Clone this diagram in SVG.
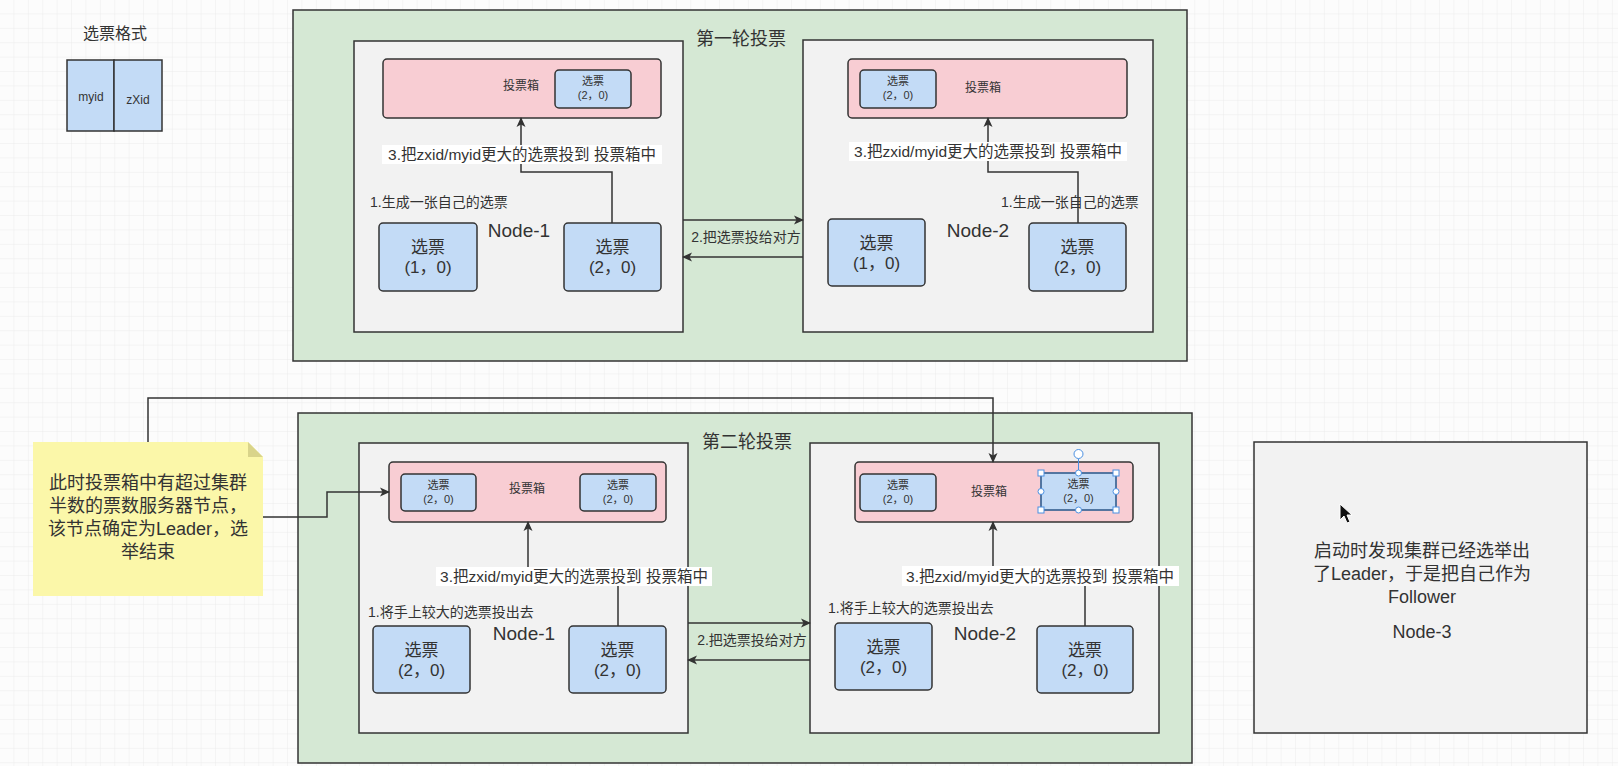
<svg xmlns="http://www.w3.org/2000/svg" width="1618" height="766" viewBox="0 0 1618 766">
<defs>
<pattern id="grid" width="14.4" height="14.4" patternUnits="userSpaceOnUse">
<path d="M14.4 0V14.4M0 14.4H14.4" fill="none" stroke="#ebebeb" stroke-width="1"/>
</pattern>
<marker id="arr" viewBox="0 0 10 10" refX="9" refY="5" markerWidth="10" markerHeight="10" markerUnits="userSpaceOnUse" orient="auto">
<path d="M0 0.5L10 5L0 9.5L2.5 5Z" fill="#333"/>
</marker>
<style>
text{font-family:"Liberation Sans","Noto Sans CJK SC",sans-serif;fill:#333;text-anchor:middle}
.grp{fill:#d5e8d4;stroke:#333;stroke-width:1.5}
.node{fill:#f2f2f2;stroke:#333;stroke-width:1.5}
.box{fill:#f8cdd3;stroke:#333;stroke-width:1.5}
.tk{fill:#c3dbf6;stroke:#333;stroke-width:1.5}
.ln{fill:none;stroke:#333;stroke-width:1.5}
.lbg{fill:#fff}
.t18{font-size:18px}
.t19{font-size:19px}
.t17{font-size:17px}
.t15{font-size:15.5px}
.t14{font-size:14px;text-anchor:start}
.t14m{font-size:14px}
.t12{font-size:12px}
.t11{font-size:11px}
.h{fill:#fff;stroke:#4a90e2;stroke-width:1}
</style>
</defs>
<rect width="1618" height="766" fill="#fcfcfc"/>
<rect width="1618" height="766" fill="url(#grid)"/>

<g id="format">
<text x="115" y="39" style="font-size:16px">选票格式</text>
<rect x="67" y="60" width="47" height="71" class="tk" rx="0"/>
<rect x="114" y="60" width="48" height="71" class="tk" rx="0"/>
<text x="91" y="101" class="t12">myid</text>
<text x="138" y="104" class="t12">zXid</text>
</g>

<g id="round1">
<rect x="293" y="10" width="894" height="351" class="grp"/>
<text x="741" y="45" class="t18">第一轮投票</text>
</g>

<g id="r1-node1">
<rect x="354" y="41" width="329" height="291" class="node"/>
<rect x="383" y="59" width="278" height="59" rx="4" class="box"/>
<text x="521" y="90" class="t12">投票箱</text>
<rect x="555" y="70" width="76" height="38" rx="4" class="tk"/>
<text x="593" y="85" class="t11">选票</text>
<text x="593" y="99" class="t11">(2，0)</text>
<text x="370" y="207" class="t14">1.生成一张自己的选票</text>
<text x="519" y="237" class="t19">Node-1</text>
<rect x="379" y="223" width="98" height="68" rx="4" class="tk"/>
<text x="428" y="253" class="t17">选票</text>
<text x="428" y="273" class="t17">(1，0)</text>
<rect x="564" y="223" width="97" height="68" rx="4" class="tk"/>
<text x="612.5" y="253" class="t17">选票</text>
<text x="612.5" y="273" class="t17">(2，0)</text>
</g>

<g id="r1-node2">
<rect x="803" y="40" width="350" height="292" class="node"/>
<rect x="848" y="59" width="279" height="59" rx="4" class="box"/>
<text x="983" y="92" class="t12">投票箱</text>
<rect x="860" y="70" width="76" height="38" rx="4" class="tk"/>
<text x="898" y="85" class="t11">选票</text>
<text x="898" y="99" class="t11">(2，0)</text>
<text x="1001" y="207" class="t14">1.生成一张自己的选票</text>
<text x="978" y="237" class="t19">Node-2</text>
<rect x="828" y="219" width="97" height="67" rx="4" class="tk"/>
<text x="876.5" y="249" class="t17">选票</text>
<text x="876.5" y="269" class="t17">(1，0)</text>
<rect x="1029" y="223" width="97" height="68" rx="4" class="tk"/>
<text x="1077.5" y="253" class="t17">选票</text>
<text x="1077.5" y="273" class="t17">(2，0)</text>
</g>

<g id="round2">
<rect x="298" y="413" width="894" height="350" class="grp"/>
<text x="747" y="448" class="t18">第二轮投票</text>
</g>

<g id="r2-node1">
<rect x="359" y="443" width="329" height="290" class="node"/>
<rect x="389" y="462" width="277" height="60" rx="4" class="box"/>
<text x="527" y="493" class="t12">投票箱</text>
<rect x="401" y="474" width="75" height="37" rx="4" class="tk"/>
<text x="438.5" y="489" class="t11">选票</text>
<text x="438.5" y="503" class="t11">(2，0)</text>
<rect x="580" y="474" width="76" height="37" rx="4" class="tk"/>
<text x="618" y="489" class="t11">选票</text>
<text x="618" y="503" class="t11">(2，0)</text>
<text x="368" y="617" class="t14">1.将手上较大的选票投出去</text>
<text x="524" y="640" class="t19">Node-1</text>
<rect x="373" y="626" width="97" height="67" rx="4" class="tk"/>
<text x="421.5" y="656" class="t17">选票</text>
<text x="421.5" y="676" class="t17">(2，0)</text>
<rect x="569" y="626" width="97" height="67" rx="4" class="tk"/>
<text x="617.5" y="656" class="t17">选票</text>
<text x="617.5" y="676" class="t17">(2，0)</text>
</g>

<g id="r2-node2">
<rect x="810" y="443" width="349" height="290" class="node"/>
<rect x="855" y="462" width="278" height="60" rx="4" class="box"/>
<text x="989" y="496" class="t12">投票箱</text>
<rect x="860" y="474" width="76" height="37" rx="4" class="tk"/>
<text x="898" y="489" class="t11">选票</text>
<text x="898" y="503" class="t11">(2，0)</text>
<rect x="1041" y="473" width="75" height="37" rx="3" class="tk"/>
<text x="1078.5" y="488" class="t11">选票</text>
<text x="1078.5" y="502" class="t11">(2，0)</text>
<text x="828" y="613" class="t14">1.将手上较大的选票投出去</text>
<text x="985" y="640" class="t19">Node-2</text>
<rect x="835" y="623" width="97" height="67" rx="4" class="tk"/>
<text x="883.5" y="653" class="t17">选票</text>
<text x="883.5" y="673" class="t17">(2，0)</text>
<rect x="1037" y="626" width="96" height="67" rx="4" class="tk"/>
<text x="1085" y="656" class="t17">选票</text>
<text x="1085" y="676" class="t17">(2，0)</text>
</g>

<g id="selection">
<rect x="1041" y="473" width="75" height="37" fill="none" stroke="#4a90e2" stroke-width="1"/>
<line x1="1078.5" y1="459" x2="1078.5" y2="473" stroke="#4a90e2" stroke-width="1"/>
<circle cx="1078.5" cy="454" r="4.5" class="h"/>
<rect x="1038" y="470" width="6" height="6" class="h"/>
<rect x="1113" y="470" width="6" height="6" class="h"/>
<rect x="1038" y="507" width="6" height="6" class="h"/>
<rect x="1113" y="507" width="6" height="6" class="h"/>
<circle cx="1078.5" cy="473" r="3" class="h"/>
<circle cx="1078.5" cy="510" r="3" class="h"/>
<circle cx="1041" cy="491.5" r="3" class="h"/>
<circle cx="1116" cy="491.5" r="3" class="h"/>
</g>

<g id="note">
<path d="M33 442H248L263 457V596H33Z" fill="#fbf7a9"/>
<path d="M248 442V457H263Z" fill="#d9d48a"/>
<text x="148" y="489" class="t18">此时投票箱中有超过集群</text>
<text x="148" y="512" class="t18">半数的票数服务器节点，</text>
<text x="148" y="535" class="t18">该节点确定为Leader，选</text>
<text x="148" y="558" class="t18">举结束</text>
</g>

<g id="node3">
<rect x="1254" y="442" width="333" height="291" class="node"/>
<text x="1422" y="557" class="t18">启动时发现集群已经选举出</text>
<text x="1422" y="580" class="t18">了Leader，于是把自己作为</text>
<text x="1422" y="603" class="t18">Follower</text>
<text x="1422" y="638" class="t18">Node-3</text>
</g>

<g id="connectors">
<path d="M612 223V172H521V118" class="ln" marker-end="url(#arr)"/>
<rect x="382" y="145" width="280" height="19" class="lbg"/>
<text x="522" y="160" class="t15">3.把zxid/myid更大的选票投到 投票箱中</text>

<path d="M1078 223V172H988V118" class="ln" marker-end="url(#arr)"/>
<rect x="849" y="142" width="278" height="19" class="lbg"/>
<text x="988" y="157" class="t15">3.把zxid/myid更大的选票投到 投票箱中</text>

<path d="M683 220H803" class="ln" marker-end="url(#arr)"/>
<path d="M803 257H683" class="ln" marker-end="url(#arr)"/>
<text x="746" y="242" class="t14m">2.把选票投给对方</text>

<path d="M618 626V576H528V522" class="ln" marker-end="url(#arr)"/>
<rect x="436" y="567" width="276" height="19" class="lbg"/>
<text x="574" y="582" class="t15">3.把zxid/myid更大的选票投到 投票箱中</text>

<path d="M1085 626V576H993V522" class="ln" marker-end="url(#arr)"/>
<rect x="902" y="566" width="277" height="20" class="lbg"/>
<text x="1040" y="582" class="t15">3.把zxid/myid更大的选票投到 投票箱中</text>

<path d="M688 623H810" class="ln" marker-end="url(#arr)"/>
<path d="M810 660H688" class="ln" marker-end="url(#arr)"/>
<text x="752" y="645" class="t14m">2.把选票投给对方</text>

<path d="M148 442V398H993V462" class="ln" marker-end="url(#arr)"/>
<path d="M263 517H327V492H389" class="ln" marker-end="url(#arr)"/>
</g>

<g id="cursor">
<path d="M1340 504V520L1344 516L1347 523L1350 522L1347 515L1352 515Z" fill="#111" stroke="#fff" stroke-width="1"/>
</g>
</svg>
